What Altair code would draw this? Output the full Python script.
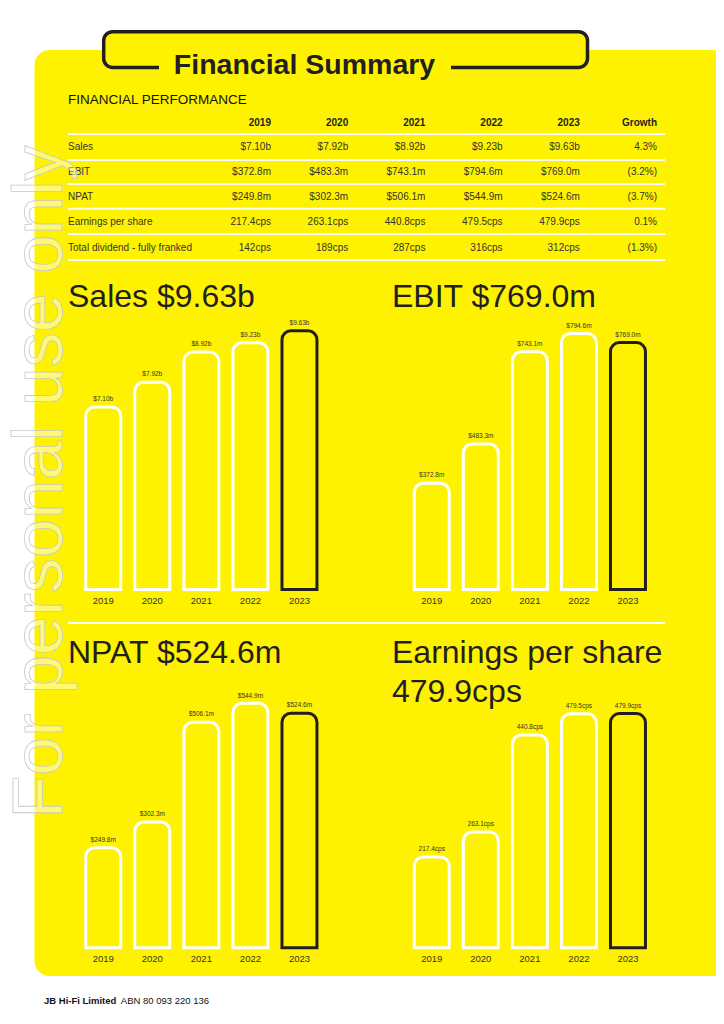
import altair as alt
import pandas as pd

# ---------------- data ----------------
years = ["2019", "2020", "2021", "2022", "2023"]
sales = [7.10, 7.92, 8.92, 9.23, 9.63]          # $b
ebit = [372.8, 483.3, 743.1, 794.6, 769.0]      # $m
npat = [249.8, 302.3, 506.1, 544.9, 524.6]      # $m
eps = [217.4, 263.1, 440.8, 479.5, 479.9]       # cps
dividend = [142, 189, 287, 316, 312]            # cps
growth = ["4.3%", "(3.2%)", "(3.7%)", "0.1%", "(1.3%)"]
row_labels = ["Sales", "EBIT", "NPAT", "Earnings per share", "Total dividend - fully franked"]
col_labels = years + ["Growth"]

sales_lbl = [f"${v:.2f}b" for v in sales]
ebit_lbl = [f"${v:.1f}m" for v in ebit]
npat_lbl = [f"${v:.1f}m" for v in npat]
eps_lbl = [f"{v:.1f}cps" for v in eps]
div_lbl = [f"{v}cps" for v in dividend]

# ---------------- style ----------------
FONT = "Liberation Sans"
DARK = "#231f20"
GREY = "#333333"
YELLOW = "#fff200"
W, H = 708, 1000
one = pd.DataFrame({"d": [0]})


def label(text, x, y, size, weight="normal", align="left", baseline="alphabetic", color=DARK, **kw):
    return alt.Chart(pd.DataFrame({"t": [text]})).mark_text(
        font=FONT, fontSize=size, fontWeight=weight, align=align, baseline=baseline, color=color, **kw
    ).encode(x=alt.value(x), y=alt.value(y), text="t:N")


def box(x, x2, y, y2, **kw):
    return alt.Chart(one).mark_rect(**kw).encode(
        x=alt.value(x), x2=alt.value(x2), y=alt.value(y), y2=alt.value(y2)
    )


def hline(y, x=60, x2=657, width=2):
    return alt.Chart(one).mark_rule(color="white", strokeWidth=width).encode(
        x=alt.value(x), x2=alt.value(x2), y=alt.value(y)
    )


def bar_panel(values, labels, x_range, y_domain, y_range):
    df = pd.DataFrame({"year": years, "value": values, "label": labels})
    xs = alt.X("year:N", axis=None,
               scale=alt.Scale(domain=years, range=x_range, paddingInner=0.287, paddingOuter=0.1435))
    ys = alt.Y("value:Q", axis=None,
               scale=alt.Scale(domain=y_domain, range=y_range, zero=False, nice=False))
    stroke = alt.condition(alt.datum.year == "2023", alt.value(DARK), alt.value("white"))
    bars = alt.Chart(df).mark_bar(
        fill=YELLOW, strokeWidth=3, cornerRadiusTopLeft=9, cornerRadiusTopRight=9
    ).encode(x=xs, y=ys, y2=alt.datum(y_domain[0]), stroke=stroke)
    vals = alt.Chart(df).mark_text(
        font=FONT, fontSize=6.5, dy=-7.8, baseline="middle", color=GREY
    ).encode(x=xs, y=ys, text="label:N")
    yrs = alt.Chart(df).mark_text(
        font=FONT, fontSize=9.5, dy=11, baseline="middle", color=GREY
    ).encode(x=xs, y=alt.datum(y_domain[0]), text="year:N")
    return alt.layer(bars, vals, yrs)


layers = []

# background panel
layers.append(box(26.5, 780, 42, 968, fill=YELLOW, cornerRadius=15))

# title box
layers.append(box(95.7, 579.5, 23.7, 59.5, fill=YELLOW, stroke=DARK, strokeWidth=3.5, cornerRadius=9))
layers.append(box(151, 443, 54, 65, fill=YELLOW))
layers.append(label("Financial Summary", 296.5, 65.5, 28.5, weight="bold", align="center"))

# table
layers.append(label("FINANCIAL PERFORMANCE", 60, 96, 13.5, color="#111111"))
for yy in [126, 152, 176, 200.7, 226, 252]:
    layers.append(hline(yy))

col_scale = alt.Scale(domain=col_labels, range=[263, 649], padding=0)
row_scale = alt.Scale(domain=row_labels, range=[138.7, 239.7], padding=0)

hdr = pd.DataFrame({"col": col_labels})
layers.append(
    alt.Chart(hdr).mark_text(font=FONT, fontSize=10, fontWeight="bold", align="right",
                             baseline="middle", color=DARK)
    .encode(x=alt.X("col:N", scale=col_scale, axis=None), y=alt.value(114.7), text="col:N")
)

rl = pd.DataFrame({"row": row_labels})
layers.append(
    alt.Chart(rl).mark_text(font=FONT, fontSize=10, align="left", baseline="middle", color=GREY)
    .encode(x=alt.value(60), y=alt.Y("row:N", scale=row_scale, axis=None), text="row:N")
)

cells = []
for r, vals in zip(row_labels, [sales_lbl, ebit_lbl, npat_lbl, eps_lbl, div_lbl]):
    for c, v in zip(years, vals):
        cells.append({"row": r, "col": c, "txt": v})
for r, g in zip(row_labels, growth):
    cells.append({"row": r, "col": "Growth", "txt": g})
cells = pd.DataFrame(cells)
layers.append(
    alt.Chart(cells).mark_text(font=FONT, fontSize=10, align="right", baseline="middle", color=GREY)
    .encode(x=alt.X("col:N", scale=col_scale, axis=None),
            y=alt.Y("row:N", scale=row_scale, axis=None), text="txt:N")
)

# divider between chart rows
layers.append(hline(615, width=2))

# chart titles
layers.append(label(f"Sales {sales_lbl[-1]}", 60, 299, 32))
layers.append(label(f"EBIT {ebit_lbl[-1]}", 384, 299, 32))
layers.append(label(f"NPAT {npat_lbl[-1]}", 60, 655, 32))
layers.append(label("Earnings per share", 384, 655, 32))
layers.append(label(eps_lbl[-1], 384, 694, 32))

# bar charts
left_x = [70.7, 316.0]
right_x = [399.2, 644.5]
layers.append(bar_panel(sales, sales_lbl, left_x, [1.036, 9.63], [581.5, 322.7]))
layers.append(bar_panel(ebit, ebit_lbl, right_x, [73.3, 794.6], [581.5, 325.5]))
layers.append(bar_panel(npat, npat_lbl, left_x, [45.2, 544.9], [939.8, 695.3]))
layers.append(bar_panel(eps, eps_lbl, right_x, [50.9, 479.9], [939.8, 705.6]))

# footer
layers.append(label("JB Hi-Fi Limited", 36, 993, 9.5, weight="bold", baseline="middle", color="#111111"))
layers.append(label("ABN 80 093 220 136", 112.8, 993, 9.5, baseline="middle", color="#111111"))

# watermark
layers.append(
    alt.Chart(pd.DataFrame({"t": ["For personal use only"]})).mark_text(
        font=FONT, fontSize=70, angle=270, align="center", baseline="alphabetic",
        fill="white", fillOpacity=0.45, stroke="#c8c8c8", strokeWidth=0.8
    ).encode(x=alt.value(54), y=alt.value(474), text="t:N")
)

chart = (
    alt.layer(*layers)
    .resolve_scale(x="independent", y="independent")
    .properties(width=W, height=H, padding=0, background="white",
                autosize=alt.AutoSizeParams(type="none"))
    .configure_view(strokeWidth=0)
)

chart.save("out.html", embed_options={"renderer": "svg", "actions": False})
